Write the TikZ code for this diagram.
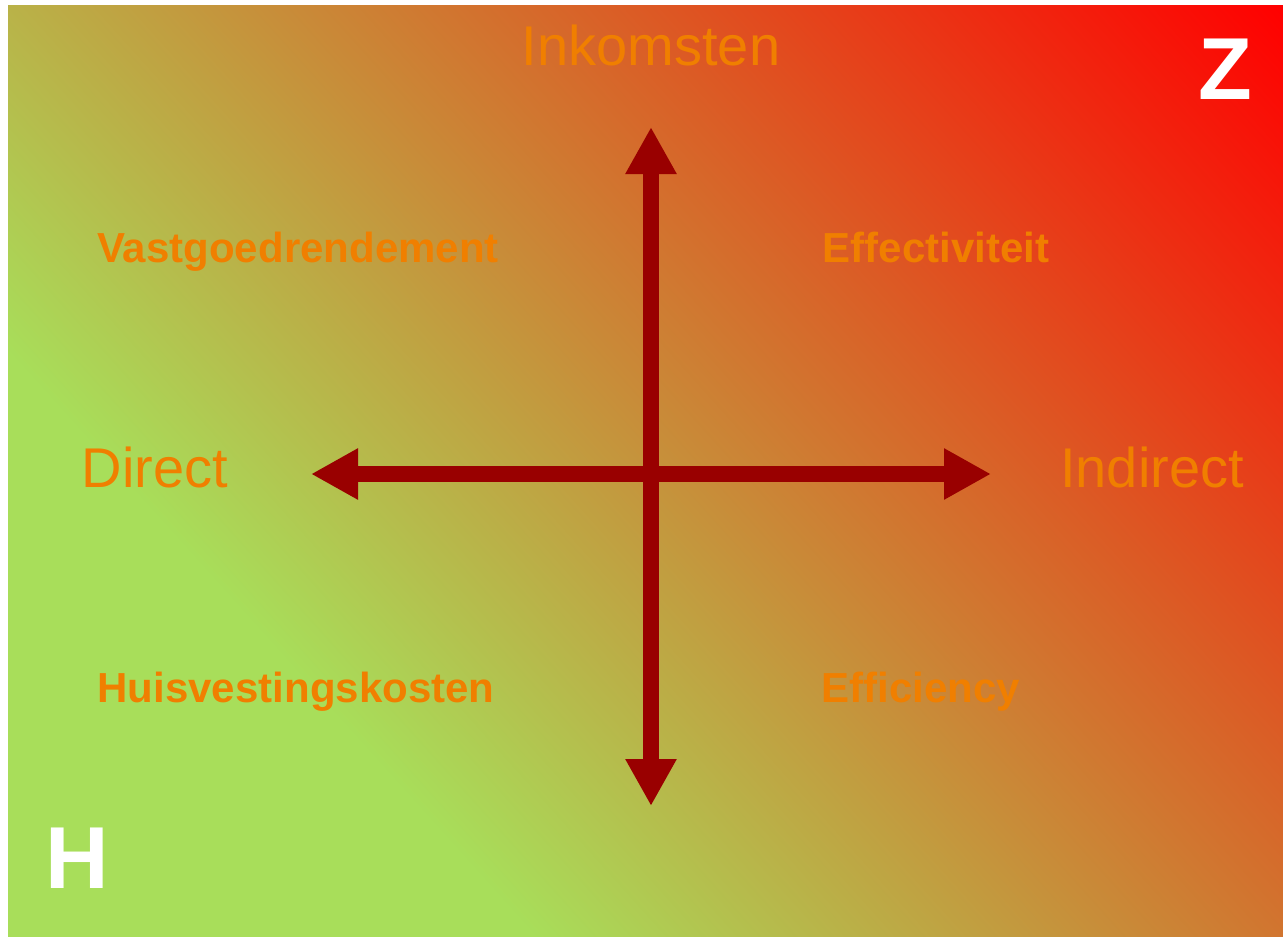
\documentclass[tikz,border=0pt]{standalone}
\usepackage{fontspec}
\setmainfont{Liberation Sans}
\usetikzlibrary{arrows.meta}
\definecolor{cgreen}{RGB}{168,222,90}
\definecolor{cred}{RGB}{255,0,0}
\definecolor{arrowred}{RGB}{153,0,0}
\definecolor{txtorange}{RGB}{240,127,0}
\pgfdeclarehorizontalshading{bgshade}{100bp}{color(0bp)=(cgreen); color(34.5bp)=(cgreen); color(80.8bp)=(cred); color(100bp)=(cred)}
\tikzset{
  biglbl/.style={text=txtorange, inner sep=0pt, anchor=base, font=\fontsize{56}{60}\selectfont},
  boldlbl/.style={text=txtorange, inner sep=0pt, anchor=base, font=\fontsize{42}{46}\selectfont\bfseries},
  cornerlbl/.style={text=white, inner sep=0pt, anchor=base, font=\fontsize{88}{92}\selectfont\bfseries},
  axisarrow/.style={draw=arrowred, line width=16pt, {Triangle[length=47pt,width=48pt]}-{Triangle[length=47pt,width=48pt]}}
}
\begin{document}
\begin{tikzpicture}[x=1pt,y=-1pt]
\useasboundingbox (0,0) rectangle (1283,937);
\fill[white] (0,0) rectangle (1283,937);
\begin{scope}
  \clip (8,5) rectangle (1283,937);
  \path[shading=bgshade, shading angle=42] (8,-166.5) rectangle (1283,1108.5);
\end{scope}
\coordinate (top) at (651,127);
\coordinate (bot) at (651,806);
\coordinate (lft) at (311,474);
\coordinate (rgt) at (991,474);
\draw[axisarrow] (lft) -- (rgt);
\draw[axisarrow] (bot) -- (top);
\node[biglbl] (ink) at (651,65) {Inkomsten};
\node[biglbl] (dir) at (155,487) {Direct};
\node[biglbl] (ind) at (1152,487) {Indirect};
\node[boldlbl] (vast) at (298,262) {Vastgoedrendement};
\node[boldlbl] (eff) at (936,262) {Effectiviteit};
\node[boldlbl] (huis) at (296,702) {Huisvestingskosten};
\node[boldlbl] (effi) at (921,702) {Efficiency};
\node[cornerlbl] (z) at (1225,99) {Z};
\node[cornerlbl] (h) at (77,888) {H};
\end{tikzpicture}
\end{document}
